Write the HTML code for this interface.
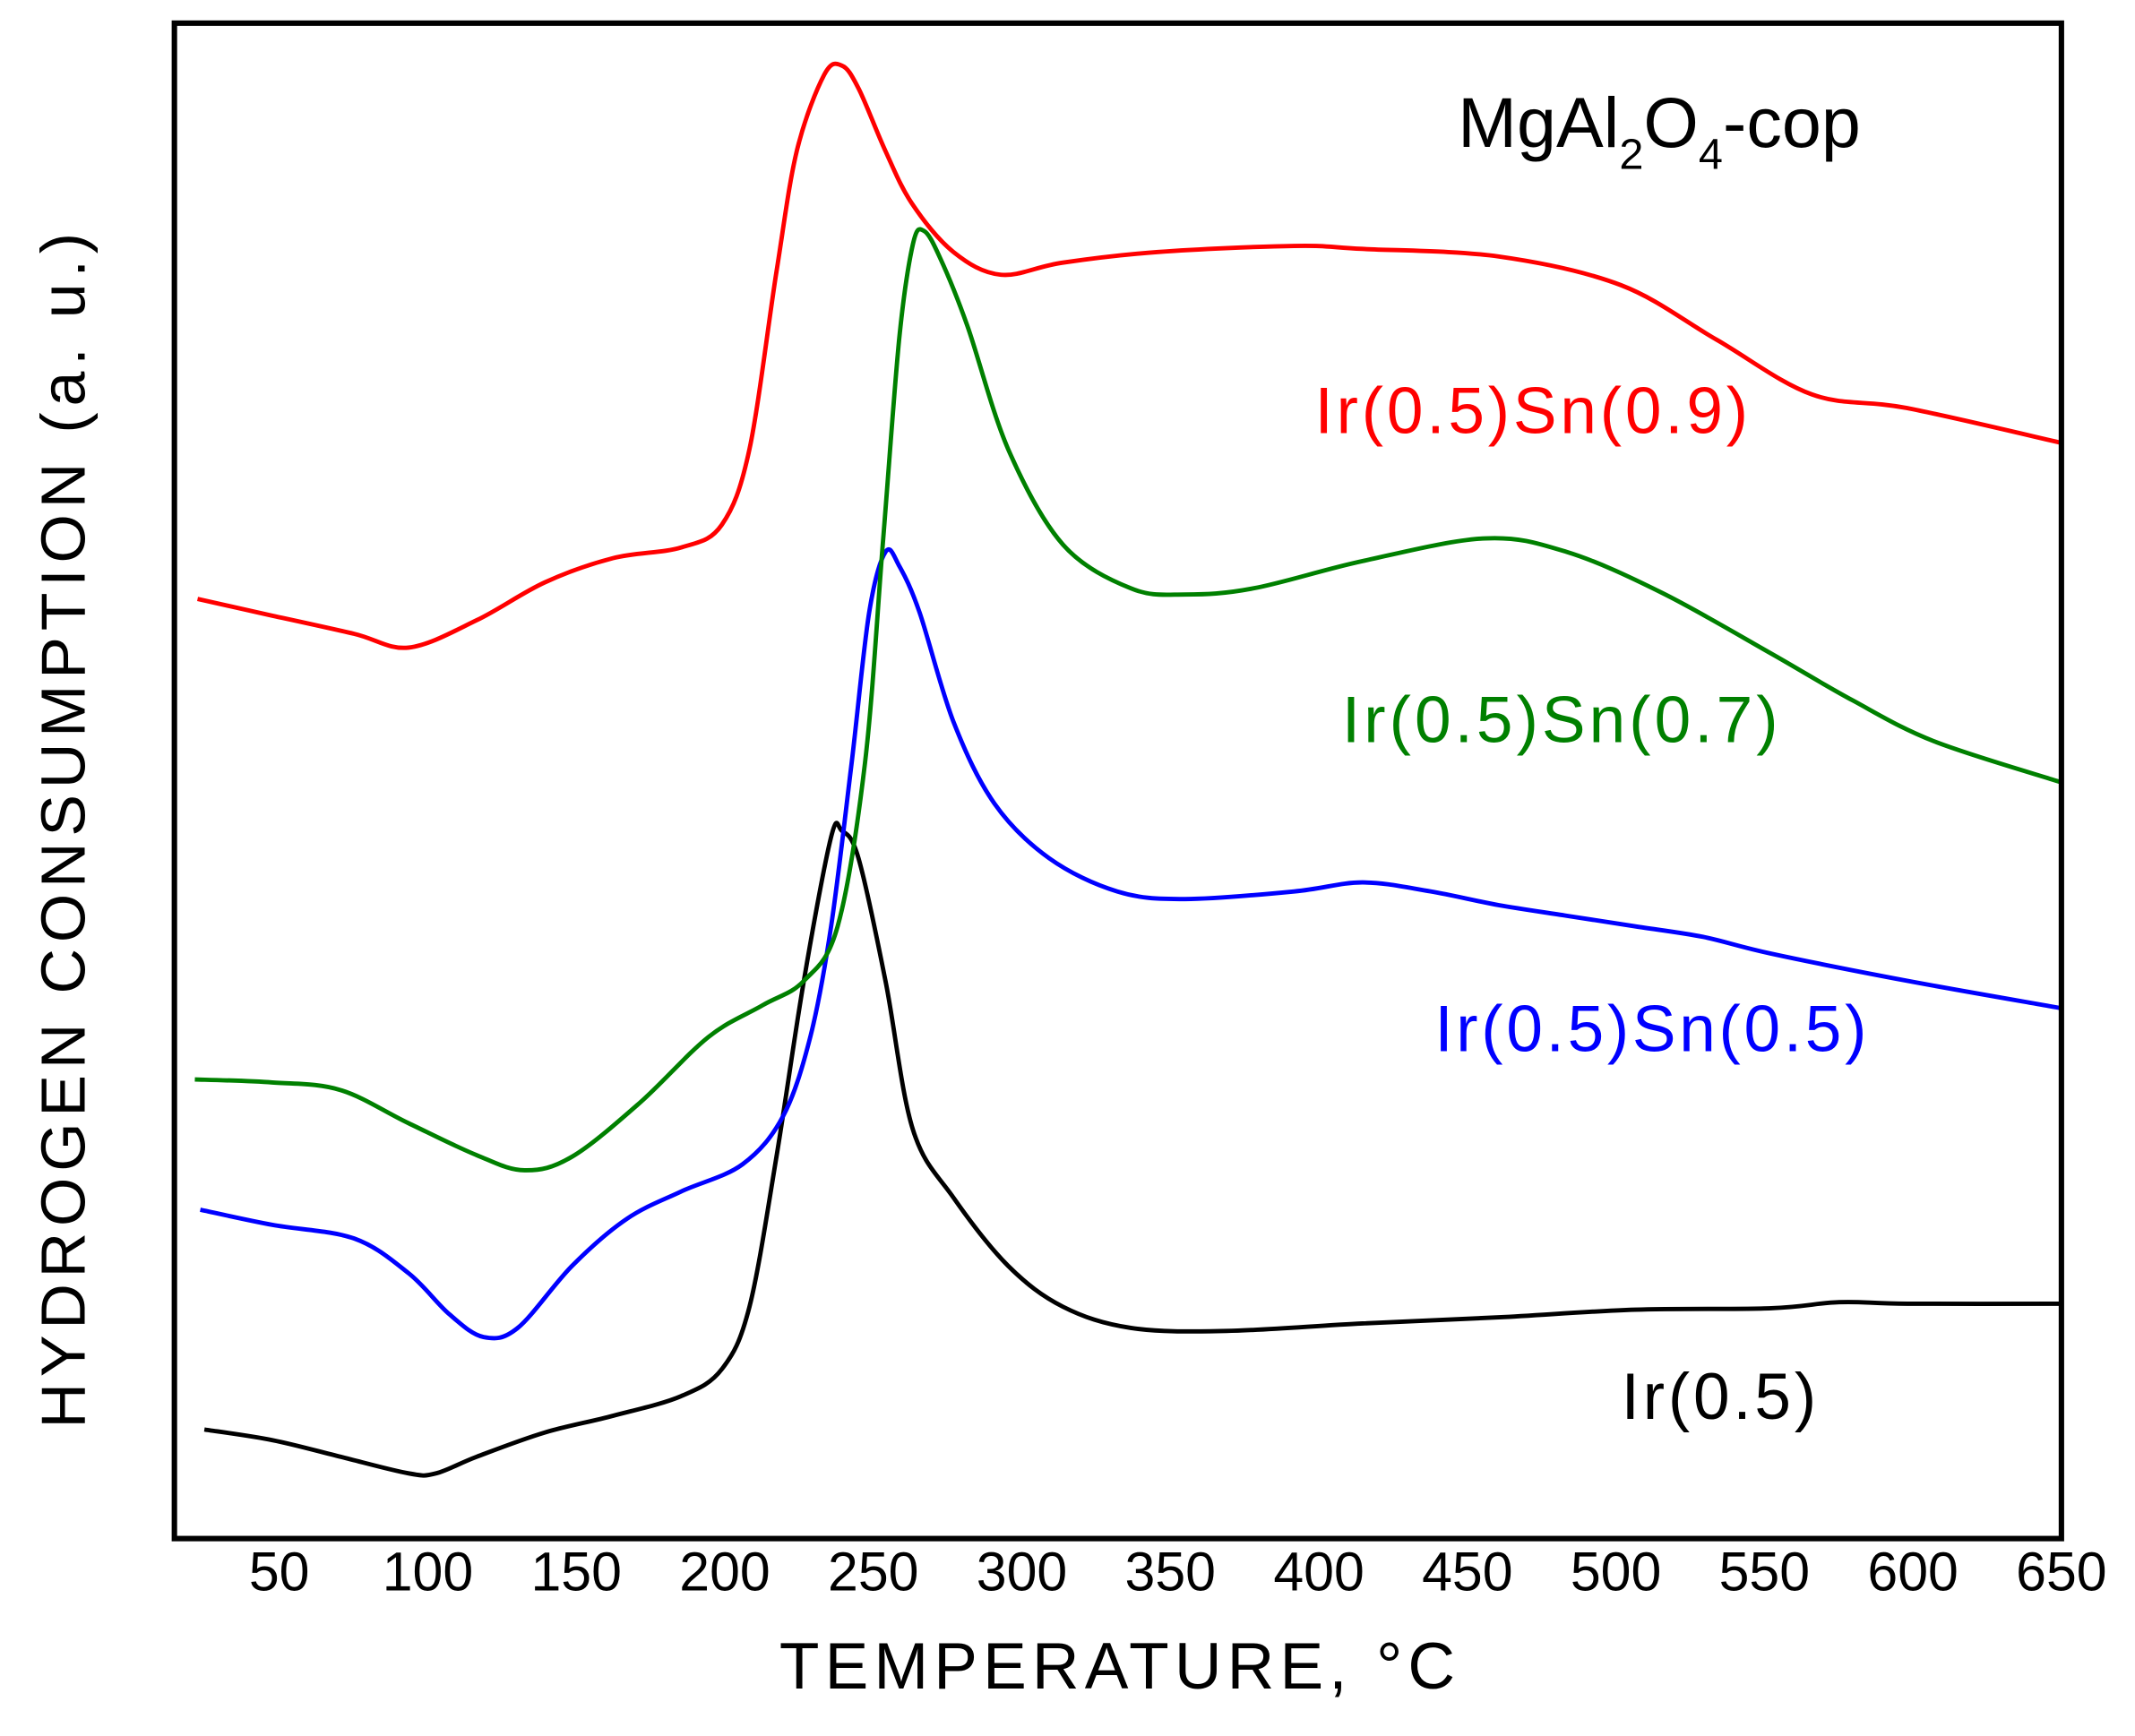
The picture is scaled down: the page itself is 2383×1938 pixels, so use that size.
<!DOCTYPE html>
<html><head><meta charset="utf-8"><style>
html,body{margin:0;padding:0;background:#fff;}
svg{display:block;font-family:"Liberation Sans",Arial,sans-serif;}
</style></head><body>
<svg id="chart" width="2383" height="1938" viewBox="0 0 1567 1275" preserveAspectRatio="none" xmlns="http://www.w3.org/2000/svg">
<rect x="0" y="0" width="1567" height="1275" fill="#fff"/>
<g id="series"></g>
<rect x="128" y="17" width="1385" height="1113" fill="none" stroke="#000" stroke-width="4"/>
<g id="ticks" font-size="40" text-anchor="middle"></g>
<text x="820" y="1240" font-size="48" text-anchor="middle" textLength="496">TEMPERATURE, °C</text>
<text transform="translate(62,610) rotate(-90)" font-size="46" text-anchor="middle" textLength="878">HYDROGEN CONSUMPTION (a. u.)</text>
<text x="1070" y="108" font-size="52">MgAl<tspan font-size="32" dy="16">2</tspan><tspan dy="-16">O</tspan><tspan font-size="32" dy="16">4</tspan><tspan dy="-16">-cop</tspan></text>
<text x="965" y="318" font-size="48" fill="#ff0000" textLength="318">Ir(0.5)Sn(0.9)</text>
<text x="985" y="545" font-size="48" fill="#008000" textLength="320">Ir(0.5)Sn(0.7)</text>
<text x="1053" y="772" font-size="48" fill="#0000ff" textLength="317">Ir(0.5)Sn(0.5)</text>
<text x="1190" y="1042" font-size="48" fill="#000" textLength="143">Ir(0.5)</text>
</svg>
<script>
const xTicks = [50,100,150,200,250,300,350,400,450,500,550,600,650];
const redT = [22.5,47.7,75.2,93.6,116.5,139.4,162.4,185.3,199,208.3,217.4,224.3,233.5,239.4,245,254,263,277,293,313.8,345.9,391.7,414.7,460.6,501.8,534,566,598,650];
const redY = [62.0,60.9,59.7,58.8,60.6,63.1,64.7,65.4,66.9,71.9,83.6,91.6,96.6,97.2,95.7,91.6,88.1,84.9,83.4,84.2,84.9,85.3,85.1,84.6,82.7,79.1,75.5,74.6,72.3];
const greenT = [21.6,47.7,70.6,93.6,116.5,132.6,148.6,171.6,194.5,212.8,226.6,238,247.2,253.2,258.7,263.3,267,272.5,281.7,295.4,313.8,336.7,355,378,414.7,456,483.5,515.6,552.3,579.8,607.3,650];
const greenY = [30.3,30.1,29.6,27.4,25.3,24.3,25.2,28.8,33.1,35.2,36.8,40.4,51.2,65.6,79.1,85.4,86.3,84.5,80.0,71.9,65.6,62.7,62.3,62.7,64.5,66.0,65.1,62.4,58.4,55.3,52.6,49.9];
const blueT = [23.4,47.7,75.2,93.6,107.3,118.8,130.3,148.6,167,185.3,206,219.7,228.9,235.8,242.7,248.6,254.1,258.7,265.6,277,290.8,309.2,332.1,355,391.7,414.7,437.6,460.6,483.5,506.4,529.4,552.3,598.2,650];
const blueY = [21.7,20.7,19.8,17.5,14.8,13.3,13.9,18.0,21.1,22.9,24.7,27.9,33.2,40.4,51.2,61.1,65.1,64.2,61.1,53.9,48.5,44.9,42.7,42.2,42.7,43.3,42.7,41.8,41.1,40.4,39.7,38.6,36.8,35.0];
const blackT = [24.8,47.7,70.6,93.6,102.8,116.5,139.4,162.4,185.3,199.1,208.3,217.4,226.6,235.8,239.4,245,254.1,263.3,277,295.4,313.8,336.7,368.8,414.7,460.6,506.4,552.3,575.2,598.2,650];
const blackY = [7.2,6.5,5.4,4.3,4.3,5.4,7.0,8.1,9.4,11.2,15.3,25.2,36.8,46.3,46.7,44.9,36.8,27.0,22.5,18.0,15.3,13.9,13.7,14.2,14.6,15.1,15.2,15.6,15.5,15.5];

const xMin = 14.7, xMax = 650, pxL = 128, pxR = 1513;
const yMinV = 0, yMaxV = 100, pyB = 1130, pyT = 17;
function sx(t){ return pxL + (t - xMin) / (xMax - xMin) * (pxR - pxL); }
function sy(v){ return pyB - (v - yMinV) / (yMaxV - yMinV) * (pyB - pyT); }
const NS = 'http://www.w3.org/2000/svg';
function pathFrom(ts, ys){
  const p = ts.map((t,i)=>[sx(t), sy(ys[i])]);
  let d = 'M' + p[0][0].toFixed(1) + ',' + p[0][1].toFixed(1);
  for (let i=0;i<p.length-1;i++){
    const p0=p[Math.max(0,i-1)], p1=p[i], p2=p[i+1], p3=p[Math.min(p.length-1,i+2)];
    const c1x=p1[0]+(p2[0]-p0[0])/6, c1y=p1[1]+(p2[1]-p0[1])/6;
    const c2x=p2[0]-(p3[0]-p1[0])/6, c2y=p2[1]-(p3[1]-p1[1])/6;
    d += ' C'+c1x.toFixed(1)+','+c1y.toFixed(1)+' '+c2x.toFixed(1)+','+c2y.toFixed(1)+' '+p2[0].toFixed(1)+','+p2[1].toFixed(1);
  }
  return d;
}
const g = document.getElementById('series');
function addLine(ts, ys, color, name){
  const el = document.createElementNS(NS,'path');
  el.setAttribute('d', pathFrom(ts, ys));
  el.setAttribute('fill','none');
  el.setAttribute('stroke',color);
  el.setAttribute('stroke-width','3.2');
  el.setAttribute('stroke-linejoin','round');
  
  
  g.appendChild(el);
}
addLine(blackT, blackY, '#000000', 'line-ir05');
addLine(blueT, blueY, '#0000ff', 'line-ir05-sn05');
addLine(greenT, greenY, '#008000', 'line-ir05-sn07');
addLine(redT, redY, '#ff0000', 'line-ir05-sn09');
const tg = document.getElementById('ticks');
xTicks.forEach(t=>{
  const el = document.createElementNS(NS,'text');
  el.setAttribute('x', sx(t));
  el.setAttribute('y', 1168);
  el.textContent = String(t);
  
  
  tg.appendChild(el);
});
</script>
</body></html>
